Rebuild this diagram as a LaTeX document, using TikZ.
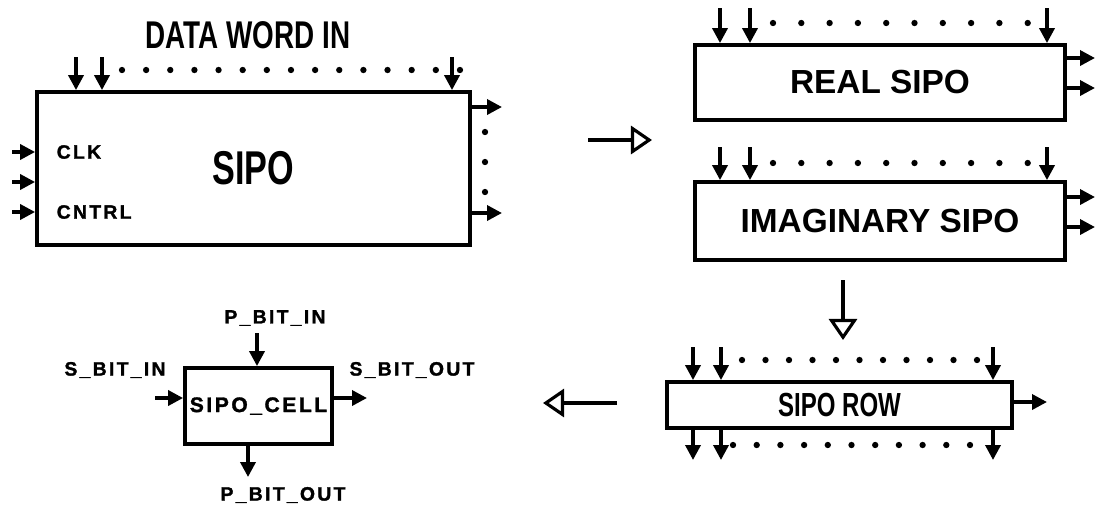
\documentclass[tikz,border=0pt]{standalone}
\usepackage{fontspec}
\setmainfont{Liberation Sans}
\newfontfamily\pinfont{Liberation Sans Bold}[LetterSpace=12, FakeBold=1.5]
\newfontfamily\narrowbold{Liberation Sans Bold}[FakeStretch=0.72]
\newfontfamily\boxfont{Liberation Sans Bold}
\usetikzlibrary{arrows.meta, calc}

\begin{document}
\begin{tikzpicture}[x=0.02cm, y=-0.02cm, line width=2pt,
    box/.style={draw, line width=2.2pt, inner sep=0pt},
    pin/.style={-{Triangle[length=8.5pt,width=8.5pt]}},
    bigarrow/.style={-{Triangle[open,length=12pt,width=16pt]}, line width=1.8pt},
    pinlabel/.style={font=\pinfont\fontsize{11}{13}\selectfont, inner sep=0pt}]
  \useasboundingbox (0,0) rectangle (1096,508);
  % top level sipo
  \node[font=\narrowbold\fontsize{22}{26}\selectfont] (dwin) at (248,35) {DATA WORD IN};
  \node[box, minimum width=8.66cm, minimum height=3.06cm,
        font=\narrowbold\fontsize{27}{30}\selectfont] (sipo) at (253.5,168.5) {SIPO};
  \node[pinlabel, anchor=west] (clk) at (55,152) {CLK};
  \node[pinlabel, anchor=west] (cntrl) at (55,212) {CNTRL};
  \foreach \x in {76,102,452}
    \draw[pin] (\x,57) -- (\x,0 |- sipo.north);
  \foreach \i in {0,...,14}
    \fill (122+\i*24.14,70) circle (1.8pt);
  \foreach \y in {152,182,212}
    \draw[pin] (12,\y) -- (sipo.west |- 0,\y);
  \foreach \y in {107,213}
    \draw[pin] (sipo.east |- 0,\y) -- (502,\y);
  \foreach \y in {132,162,192}
    \fill (485,\y) circle (1.8pt);
  % split into real and imaginary
  \coordinate (splitA) at (588,140);
  \coordinate (splitB) at (652,140);
  \draw[bigarrow] (splitA) -- (splitB);
  \node[box, minimum width=7.4cm, minimum height=1.5cm,
        font=\boxfont\fontsize{19}{22}\selectfont] (real) at (880,82.5) {REAL SIPO};
  \node[box, minimum width=7.4cm, minimum height=1.56cm,
        font=\boxfont\fontsize{19}{22}\selectfont] (imag) at (880,221) {IMAGINARY SIPO};
  \foreach \x in {720,750,1047} {
    \draw[pin] (\x,8) -- (\x,0 |- real.north);
    \draw[pin] (\x,147) -- (\x,0 |- imag.north);
  }
  \foreach \i in {0,...,9} {
    \fill (773+\i*28.3,23) circle (1.8pt);
    \fill (773+\i*28.3,163) circle (1.8pt);
  }
  \foreach \y in {58,88}
    \draw[pin] (real.east |- 0,\y) -- (1095,\y);
  \foreach \y in {197,227}
    \draw[pin] (imag.east |- 0,\y) -- (1095,\y);
  % one row
  \coordinate (rowA) at (843,280);
  \coordinate (rowB) at (843,340);
  \draw[bigarrow] (rowA) -- (rowB);
  \node[box, minimum width=6.9cm, minimum height=0.92cm,
        font=\narrowbold\fontsize{19}{22}\selectfont] (row) at (839.5,405) {SIPO ROW};
  \foreach \x in {693,721,993} {
    \draw[pin] (\x,347) -- (\x,0 |- row.north);
    \draw[pin] (\x,0 |- row.south) -- (\x,460);
  }
  \foreach \i in {0,...,10} {
    \fill (742+\i*23.5,360) circle (1.8pt);
    \fill (733+\i*23.7,445) circle (1.8pt);
  }
  \draw[pin] (row.east |- 0,402) -- (1047,402);
  % one cell
  \coordinate (cellA) at (617,403);
  \coordinate (cellB) at (543,403);
  \draw[bigarrow] (cellA) -- (cellB);
  \node[box, minimum width=2.94cm, minimum height=1.52cm,
        font=\pinfont\fontsize{12}{14}\selectfont] (cell) at (258.5,406) {SIPO\_CELL};
  \node[pinlabel] (pin) at (275,318) {P\_BIT\_IN};
  \node[pinlabel] (sin) at (115,370) {S\_BIT\_IN};
  \node[pinlabel] (sout) at (412,370) {S\_BIT\_OUT};
  \node[pinlabel] (pout) at (283,495) {P\_BIT\_OUT};
  \draw[pin] (257,333) -- (257,0 |- cell.north);
  \draw[pin] (155,398) -- (cell.west |- 0,398);
  \draw[pin] (cell.east |- 0,398) -- (367,398);
  \draw[pin] (248,0 |- cell.south) -- (248,477);
\end{tikzpicture}
\end{document}
